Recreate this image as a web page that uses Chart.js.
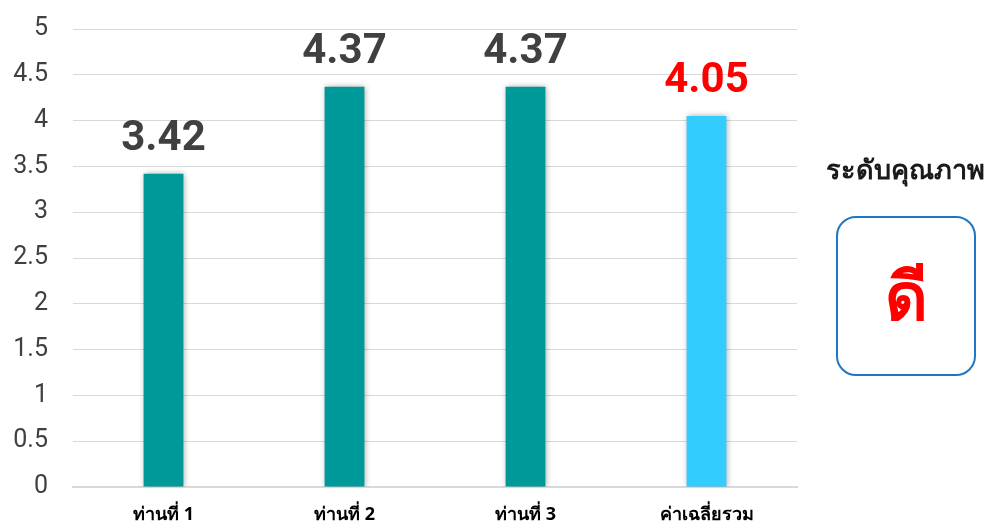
<!DOCTYPE html>
<html>
<head>
<meta charset="utf-8">
<script src="https://cdn.jsdelivr.net/npm/chart.js@4.4.0/dist/chart.umd.min.js"></script>
<style>
  html, body { margin: 0; padding: 0; background: #fff; }
  #wrap { position: relative; width: 987px; height: 527px; }
  #panel-title {
    position: absolute; left: 800px; width: 210px; top: 148px;
    text-align: center; font: bold 27px "Noto Sans", Tahoma, sans-serif; color: #1a1a1a;
  }
  #panel-box {
    position: absolute; left: 836px; top: 216px; width: 140px; height: 160px;
    border: 2px solid #1f77c4; border-radius: 20px; box-sizing: border-box;
    display: flex; align-items: center; justify-content: center;
    font: bold 66px "Noto Sans", Tahoma, sans-serif; color: #ff0000;
  }
</style>
</head>
<body>
<div id="wrap">
  <canvas id="chart" width="987" height="527"></canvas>
  <div id="panel-title">ระดับคุณภาพ</div>
  <div id="panel-box">ดี</div>
</div>
<script>
const categories = ['ท่านที่ 1', 'ท่านที่ 2', 'ท่านที่ 3', 'ค่าเฉลี่ยรวม'];
const scores = [3.42, 4.37, 4.37, 4.05];
const yTicks = [0, 0.5, 1, 1.5, 2, 2.5, 3, 3.5, 4, 4.5, 5];

const TEAL = '#009999';
const SKY = '#33ccff';
const isAvg = i => i === categories.length - 1;

// เงาของแท่ง
const barShadow = {
    id: 'barShadow',
    beforeDatasetsDraw(chart) {
        const ctx = chart.ctx;
        ctx.save();
        ctx.shadowColor = 'rgba(0,0,0,0.35)';
        ctx.shadowBlur = 6;
        ctx.shadowOffsetX = 1;
        ctx.shadowOffsetY = 0;
    },
    afterDatasetsDraw(chart) {
        chart.ctx.restore();
    }
};

// ค่าบนแท่ง
const valueLabels = {
    id: 'valueLabels',
    afterDatasetsDraw(chart) {
        const ctx = chart.ctx;
        const meta = chart.getDatasetMeta(0);
        ctx.save();
        ctx.font = 'bold 42px Roboto, "Liberation Sans", sans-serif';
        ctx.textAlign = 'center';
        ctx.textBaseline = 'alphabetic';
        meta.data.forEach((bar, i) => {
            ctx.fillStyle = isAvg(i) ? '#ff0000' : '#404040';
            ctx.fillText(scores[i].toFixed(2), bar.x, bar.y - 24);
        });
        ctx.restore();
    }
};

new Chart(document.getElementById('chart'), {
    type: 'bar',
    data: {
        labels: categories,
        datasets: [{
            data: scores,
            backgroundColor: ctx => isAvg(ctx.dataIndex) ? SKY : TEAL,
            barPercentage: 0.22,
            categoryPercentage: 1
        }]
    },
    options: {
        responsive: false,
        animation: false,
        layout: { padding: { top: 29, right: 190, left: 0, bottom: 0 } },
        plugins: { legend: { display: false }, tooltip: { enabled: false } },
        scales: {
            x: {
                afterFit: axis => { axis.height = 40; },
                grid: { display: false },
                border: { color: '#d9d9d9', width: 2 },
                ticks: {
                    color: '#000',
                    padding: 9,
                    font: { family: '"Noto Sans", Tahoma, sans-serif', size: 18, weight: 'bold' }
                }
            },
            y: {
                min: 0,
                max: 5,
                afterFit: axis => {
                    axis.width = 73;
                    axis.paddingTop = 0;
                    axis.paddingBottom = 0;
                },
                afterBuildTicks: axis => { axis.ticks = yTicks.map(v => ({ value: v })); },
                grid: { color: '#d9d9d9', drawTicks: false },
                border: { display: false },
                ticks: {
                    color: '#404040',
                    padding: 25,
                    callback: v => String(v),
                    font: { family: 'Roboto, sans-serif', size: 25 }
                }
            }
        }
    },
    plugins: [barShadow, valueLabels]
});
</script>
</body>
</html>
